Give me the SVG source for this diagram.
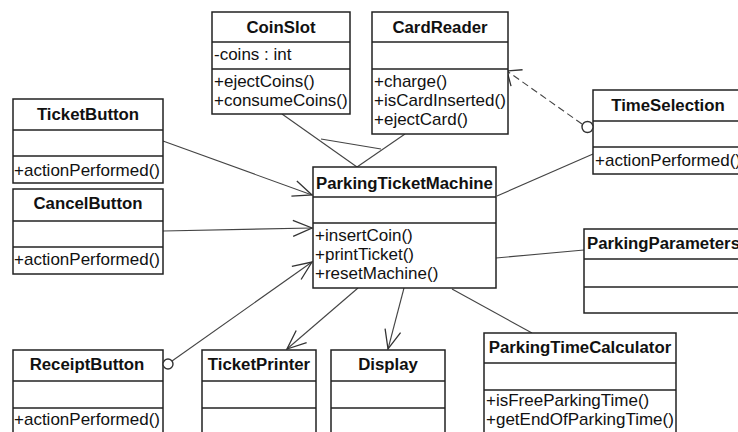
<svg xmlns="http://www.w3.org/2000/svg" width="738" height="432" viewBox="0 0 738 432">
<style>
.box{fill:#fff;stroke:#222;stroke-width:1.5}
.sep{stroke:#222;stroke-width:1.5}
.t{font-family:"Liberation Sans",Arial,sans-serif;font-size:16.8px;font-weight:bold;fill:#111;text-anchor:middle}
.m{font-family:"Liberation Sans",Arial,sans-serif;font-size:17px;fill:#111}
.c{stroke:#444;stroke-width:1.1;fill:none}
.d{stroke:#444;stroke-width:1.1;fill:none;stroke-dasharray:7,4}
.o{fill:#fff;stroke:#333;stroke-width:1.4}
</style>
<defs>
<marker id="arr" markerUnits="userSpaceOnUse" markerWidth="40" markerHeight="40" viewBox="-20 -20 40 40" refX="0" refY="0" orient="auto">
<path d="M-19,-8 L0,0 L-19,8" fill="none" stroke="#333" stroke-width="1.3"/>
</marker>
<marker id="arr2" markerUnits="userSpaceOnUse" markerWidth="40" markerHeight="40" viewBox="-20 -20 40 40" refX="0" refY="0" orient="auto">
<path d="M-12,-10 L0,0 L-12,10" fill="none" stroke="#333" stroke-width="1.3"/>
</marker>
</defs>

<g id="connectors">
<line class="c" x1="163" y1="141" x2="312" y2="195" marker-end="url(#arr)"/>
<line class="c" x1="163" y1="231" x2="312" y2="228" marker-end="url(#arr)"/>
<line class="c" x1="172" y1="361" x2="312" y2="262" marker-end="url(#arr)"/>
<line class="c" x1="358" y1="288" x2="287" y2="349" marker-end="url(#arr)"/>
<line class="c" x1="404" y1="288" x2="388" y2="349" marker-end="url(#arr)"/>
<line class="c" x1="452" y1="289" x2="532" y2="333"/>
<line class="c" x1="496" y1="258" x2="584" y2="250"/>
<line class="c" x1="497" y1="196" x2="593" y2="154"/>
<line class="c" x1="282" y1="114" x2="357" y2="167"/>
<line class="c" x1="405" y1="134" x2="357" y2="167"/>
<line class="c" x1="321" y1="139" x2="381" y2="149"/>
<line class="d" x1="582" y1="124" x2="507" y2="71" marker-end="url(#arr2)"/>
</g>

<g id="CoinSlot">
<rect class="box" x="212" y="12" width="138" height="102"/>
<line class="sep" x1="212" y1="42" x2="350" y2="42"/>
<line class="sep" x1="212" y1="69" x2="350" y2="69"/>
<text class="t" x="281" y="33">CoinSlot</text>
<text class="m" x="214" y="60">-coins : int</text>
<text class="m" x="214" y="87">+ejectCoins()</text>
<text class="m" x="214" y="106">+consumeCoins()</text>
</g>

<g id="CardReader">
<rect class="box" x="372" y="12" width="136" height="122"/>
<line class="sep" x1="372" y1="42" x2="508" y2="42"/>
<line class="sep" x1="372" y1="69" x2="508" y2="69"/>
<text class="t" x="440" y="33">CardReader</text>
<text class="m" x="374" y="87">+charge()</text>
<text class="m" x="374" y="106">+isCardInserted()</text>
<text class="m" x="374" y="125">+ejectCard()</text>
</g>

<g id="TicketButton">
<rect class="box" x="13" y="99" width="150" height="84"/>
<line class="sep" x1="13" y1="130" x2="163" y2="130"/>
<line class="sep" x1="13" y1="156" x2="163" y2="156"/>
<text class="t" x="88" y="120">TicketButton</text>
<text class="m" x="14" y="176">+actionPerformed()</text>
</g>

<g id="CancelButton">
<rect class="box" x="13" y="189" width="150" height="85"/>
<line class="sep" x1="13" y1="221" x2="163" y2="221"/>
<line class="sep" x1="13" y1="247" x2="163" y2="247"/>
<text class="t" x="88" y="209">CancelButton</text>
<text class="m" x="14" y="265">+actionPerformed()</text>
</g>

<g id="TimeSelection">
<rect class="box" x="593" y="90" width="150" height="84"/>
<line class="sep" x1="593" y1="121" x2="743" y2="121"/>
<line class="sep" x1="593" y1="147" x2="743" y2="147"/>
<text class="t" x="668" y="111">TimeSelection</text>
<text class="m" x="595" y="166">+actionPerformed()</text>
<circle class="o" cx="587.5" cy="127" r="5.5"/>
</g>

<g id="ParkingTicketMachine">
<rect class="box" x="313" y="167" width="183" height="121"/>
<line class="sep" x1="313" y1="197" x2="496" y2="197"/>
<line class="sep" x1="313" y1="223" x2="496" y2="223"/>
<text class="t" x="404.5" y="189">ParkingTicketMachine</text>
<text class="m" x="315" y="241">+insertCoin()</text>
<text class="m" x="315" y="260">+printTicket()</text>
<text class="m" x="315" y="279">+resetMachine()</text>
</g>

<g id="ParkingParameters">
<rect class="box" x="584" y="229" width="160" height="84"/>
<line class="sep" x1="584" y1="259" x2="744" y2="259"/>
<line class="sep" x1="584" y1="287" x2="744" y2="287"/>
<text class="t" x="587" y="249" style="text-anchor:start">ParkingParameters</text>
</g>

<g id="ReceiptButton">
<rect class="box" x="13" y="350" width="150" height="95"/>
<line class="sep" x1="13" y1="381" x2="163" y2="381"/>
<line class="sep" x1="13" y1="408" x2="163" y2="408"/>
<text class="t" x="87" y="370">ReceiptButton</text>
<text class="m" x="14" y="425">+actionPerformed()</text>
<circle class="o" cx="168" cy="364" r="5"/>
</g>

<g id="TicketPrinter">
<rect class="box" x="202" y="350" width="114" height="95"/>
<line class="sep" x1="202" y1="381" x2="316" y2="381"/>
<line class="sep" x1="202" y1="408" x2="316" y2="408"/>
<text class="t" x="259" y="370">TicketPrinter</text>
</g>

<g id="Display">
<rect class="box" x="331" y="350" width="114" height="95"/>
<line class="sep" x1="331" y1="381" x2="445" y2="381"/>
<line class="sep" x1="331" y1="408" x2="445" y2="408"/>
<text class="t" x="388" y="370">Display</text>
</g>

<g id="ParkingTimeCalculator">
<rect class="box" x="484" y="333" width="192" height="112"/>
<line class="sep" x1="484" y1="363" x2="676" y2="363"/>
<line class="sep" x1="484" y1="390" x2="676" y2="390"/>
<text class="t" x="580" y="353">ParkingTimeCalculator</text>
<text class="m" x="486" y="406">+isFreeParkingTime()</text>
<text class="m" x="486" y="425">+getEndOfParkingTime()</text>
</g>
</svg>
